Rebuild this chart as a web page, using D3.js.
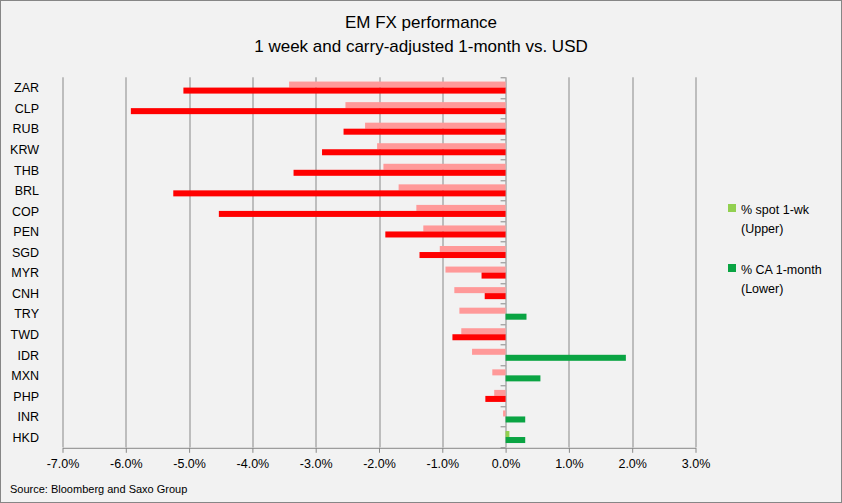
<!DOCTYPE html>
<html>
<head>
<meta charset="utf-8">
<script src="https://cdn.jsdelivr.net/npm/d3@7"></script>
<style>
  body { margin: 0; background: #fff; }
  text { font-family: "Liberation Sans", Arial, sans-serif; fill: #000; }
</style>
</head>
<body>
<div id="chart"></div>
<script>
// currencies, top to bottom
var currencies = ["ZAR", "CLP", "RUB", "KRW", "THB", "BRL", "COP", "PEN", "SGD",
                  "MYR", "CNH", "TRY", "TWD", "IDR", "MXN", "PHP", "INR", "HKD"];

// % spot 1-wk (upper bar)
var spot1wk = [-3.42, -2.53, -2.22, -2.03, -1.93, -1.69, -1.41, -1.30, -1.04,
               -0.95, -0.81, -0.73, -0.70, -0.53, -0.21, -0.18, -0.04, 0.06];

// % CA 1-month (lower bar)
var ca1m = [-5.09, -5.92, -2.56, -2.90, -3.35, -5.25, -4.53, -1.90, -1.36,
            -0.38, -0.33, 0.33, -0.84, 1.90, 0.55, -0.32, 0.31, 0.31];

var xTicks = [-7, -6, -5, -4, -3, -2, -1, 0, 1, 2, 3];

var seriesNames = ["% spot 1-wk", "% CA 1-month"];
var seriesNotes = ["(Upper)", "(Lower)"];

var W = 842, H = 503;
var margin = {top: 77.3, right: 146.5, bottom: 55.7, left: 62.5},
    width = W - margin.left - margin.right,
    height = H - margin.top - margin.bottom;

var colPos = ["#92D050", "#0AA443"],
    colNeg = ["#FF9999", "#FF0000"],
    gridCol = "#888888";

var svg = d3.select("#chart").append("svg")
    .attr("width", W)
    .attr("height", H);

// chart area background and border
svg.append("rect")
    .attr("x", 0.5).attr("y", 0.5)
    .attr("width", W - 1).attr("height", H - 1)
    .attr("fill", "#F2F2F2")
    .attr("stroke", "#868686");

// title
svg.append("text")
    .attr("x", W / 2).attr("y", 28)
    .attr("text-anchor", "middle")
    .style("font-size", "17px")
    .text("EM FX performance");
svg.append("text")
    .attr("x", W / 2).attr("y", 52)
    .attr("text-anchor", "middle")
    .style("font-size", "17px")
    .text("1 week and carry-adjusted 1-month vs. USD");

var g = svg.append("g")
    .attr("transform", "translate(" + margin.left + "," + margin.top + ")");

var x = d3.scaleLinear().domain([-7, 3]).range([0, width]);
var y = d3.scaleBand().domain(currencies).range([0, height]);
var ySub = d3.scaleBand().domain([0, 1]).range([0, y.bandwidth()]).paddingOuter(0.71);

// vertical gridlines
g.append("g")
    .attr("class", "grid")
    .selectAll("line")
    .data(xTicks)
    .enter().append("line")
    .attr("x1", function(d) { return Math.round(x(d)) + 0.5; })
    .attr("x2", function(d) { return Math.round(x(d)) + 0.5; })
    .attr("y1", 0)
    .attr("y2", height)
    .attr("stroke", gridCol);

// x axis
var xAxis = d3.axisBottom(x)
    .tickValues(xTicks)
    .tickSizeInner(5)
    .tickSizeOuter(0)
    .tickPadding(6)
    .tickFormat(function(d) { return d.toFixed(1) + "%"; });

var gx = g.append("g")
    .attr("transform", "translate(0," + (Math.round(height) + 0.5) + ")")
    .call(xAxis);
gx.select(".domain").attr("stroke", gridCol);
gx.selectAll(".tick line").attr("stroke", gridCol);
gx.selectAll(".tick text")
    .style("font-family", "Liberation Sans, Arial, sans-serif")
    .style("font-size", "12.5px")
    .attr("fill", "#000");

// bars
var rows = currencies.map(function(c, i) { return {cur: c, vals: [spot1wk[i], ca1m[i]]}; });

var row = g.selectAll(".row")
    .data(rows)
    .enter().append("g")
    .attr("class", "row")
    .attr("transform", function(d) { return "translate(0," + y(d.cur) + ")"; });

row.selectAll("rect")
    .data(function(d) { return d.vals.map(function(v, k) { return {v: v, k: k}; }); })
    .enter().append("rect")
    .attr("x", function(d) { return x(Math.min(0, d.v)); })
    .attr("y", function(d) { return ySub(d.k); })
    .attr("width", function(d) { return Math.abs(x(d.v) - x(0)); })
    .attr("height", ySub.bandwidth())
    .attr("fill", function(d) { return d.v < 0 ? colNeg[d.k] : colPos[d.k]; });

// category axis ticks at zero (between categories)
var bounds = currencies.map(function(c) { return y(c); }).concat([height]);
g.append("g")
    .selectAll("line")
    .data(bounds)
    .enter().append("line")
    .attr("x1", x(0) - 5)
    .attr("x2", x(0))
    .attr("y1", function(d) { return Math.round(d) + 0.5; })
    .attr("y2", function(d) { return Math.round(d) + 0.5; })
    .attr("stroke", gridCol);

// category labels on the left
g.append("g")
    .selectAll("text")
    .data(currencies)
    .enter().append("text")
    .attr("x", 39 - margin.left)
    .attr("y", function(d) { return y(d) + y.bandwidth() / 2; })
    .attr("dy", "0.38em")
    .attr("text-anchor", "end")
    .style("font-size", "12.5px")
    .text(function(d) { return d; });

// legend
var legend = svg.append("g").attr("transform", "translate(728,0)");
var legY = [204, 264];
seriesNames.forEach(function(name, k) {
    legend.append("rect")
        .attr("x", 0).attr("y", legY[k])
        .attr("width", 8).attr("height", 8)
        .attr("fill", colPos[k]);
    legend.append("text")
        .attr("x", 13).attr("y", legY[k] + 9.5)
        .style("font-size", "12.5px")
        .text(name);
    legend.append("text")
        .attr("x", 13).attr("y", legY[k] + 28.5)
        .style("font-size", "12.5px")
        .text(seriesNotes[k]);
});

// source
svg.append("text")
    .attr("x", 10).attr("y", 493)
    .style("font-size", "11px")
    .text("Source: Bloomberg and Saxo Group");
</script>
</body>
</html>
